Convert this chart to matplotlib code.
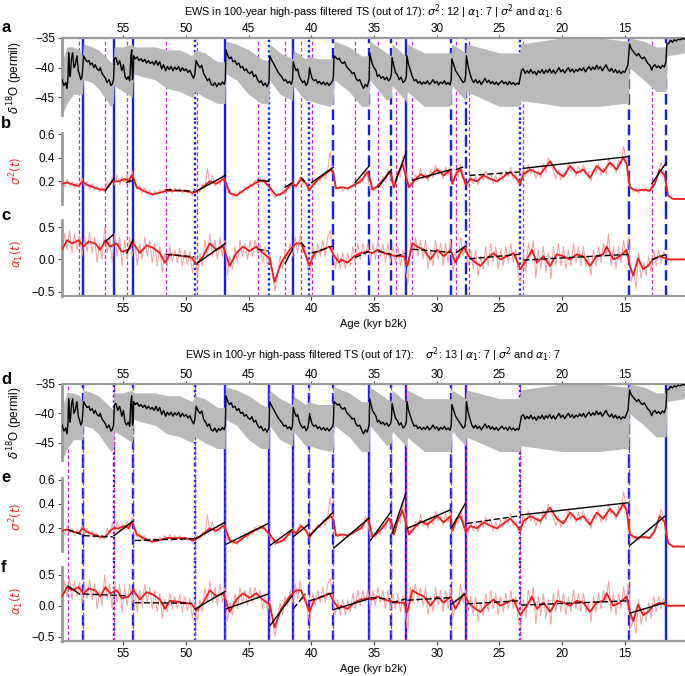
import numpy as np
import matplotlib.pyplot as plt

# ---------------- data (age in kyr b2k) ----------------
# NGRIP d18O, black running line
d18o = [
    (59.90, -42.0), (59.75, -43.0), (59.60, -42.5), (59.50, -43.5), (59.42, -41.5), (59.37, -37.5),
    (59.30, -40.5), (59.24, -41.5), (59.15, -38.5), (59.05, -37.5), (58.95, -40.0), (58.84, -39.5),
    (58.71, -38.0), (58.60, -40.5), (58.52, -41.0), (58.40, -42.0), (58.30, -41.5), (58.26, -40.5),
    (58.18, -38.0), (58.05, -38.5), (57.90, -39.0), (57.75, -38.8), (57.65, -39.5), (57.50, -39.2),
    (57.35, -40.0), (57.25, -39.5), (57.10, -40.2), (56.95, -40.5), (56.85, -40.0), (56.70, -41.0),
    (56.59, -41.3), (56.43, -41.8), (56.32, -42.5), (56.15, -42.0), (56.00, -43.0), (55.90, -42.8),
    (55.79, -42.0), (55.72, -38.5), (55.60, -38.3), (55.45, -39.5), (55.30, -38.8), (55.13, -40.5),
    (55.00, -39.5), (54.87, -41.5), (54.75, -42.0), (54.62, -41.5), (54.50, -42.2), (54.40, -38.0),
    (54.34, -37.0), (54.28, -42.0), (54.23, -41.5), (54.18, -38.0), (54.05, -38.5), (53.90, -38.2),
    (53.75, -38.8), (53.60, -38.5), (53.45, -39.0), (53.30, -38.6), (53.15, -39.2), (53.00, -38.8),
    (52.85, -39.3), (52.70, -39.0), (52.55, -39.5), (52.40, -38.8), (52.25, -39.6), (52.10, -39.0),
    (51.95, -40.2), (51.80, -39.5), (51.63, -40.5), (51.50, -39.8), (51.35, -40.3), (51.20, -39.8),
    (51.05, -40.5), (50.90, -39.9), (50.75, -40.3), (50.60, -39.8), (50.45, -40.6), (50.30, -40.0),
    (50.15, -40.5), (50.00, -40.2), (49.85, -40.8), (49.70, -40.4), (49.55, -41.2), (49.40, -41.8),
    (49.30, -41.0), (49.20, -38.8), (49.05, -39.5), (48.90, -40.0), (48.75, -39.6), (48.60, -41.0),
    (48.45, -41.5), (48.30, -42.2), (48.15, -41.8), (48.00, -42.8), (47.85, -43.0), (47.70, -42.5),
    (47.55, -43.2), (47.40, -42.6), (47.25, -42.9), (47.10, -42.4), (46.95, -42.8), (46.87, -42.0),
    (46.82, -37.0), (46.70, -37.8), (46.55, -38.5), (46.40, -38.2), (46.26, -39.0), (46.10, -38.8),
    (45.95, -39.5), (45.80, -39.2), (45.65, -40.0), (45.50, -39.8), (45.35, -40.5), (45.20, -40.2),
    (45.05, -40.8), (44.90, -41.0), (44.75, -40.6), (44.60, -41.5), (44.45, -41.2), (44.30, -42.0),
    (44.15, -42.5), (44.00, -42.2), (43.85, -43.0), (43.70, -42.6), (43.55, -43.2), (43.39, -42.5),
    (43.33, -38.0), (43.20, -38.6), (43.05, -39.2), (42.94, -39.6), (42.80, -40.2), (42.65, -40.8),
    (42.50, -41.2), (42.35, -41.6), (42.20, -42.2), (42.05, -42.0), (41.90, -42.6), (41.75, -42.3),
    (41.60, -42.8), (41.51, -42.0), (41.45, -39.0), (41.35, -39.8), (41.22, -40.5), (41.10, -40.2),
    (40.96, -41.5), (40.85, -42.0), (40.70, -42.5), (40.56, -42.2), (40.43, -43.0), (40.30, -42.5),
    (40.21, -41.5), (40.15, -40.0), (40.05, -41.0), (39.95, -41.8), (39.80, -42.2), (39.65, -42.0),
    (39.50, -42.6), (39.37, -42.3), (39.20, -42.8), (39.05, -42.4), (38.90, -42.9), (38.75, -42.5),
    (38.60, -43.0), (38.45, -42.6), (38.30, -42.2), (38.25, -41.5), (38.20, -38.0), (38.05, -38.3),
    (37.90, -38.6), (37.78, -38.4), (37.65, -39.0), (37.50, -39.3), (37.35, -39.0), (37.20, -39.8),
    (37.05, -40.2), (36.90, -40.5), (36.75, -41.0), (36.60, -40.8), (36.45, -41.8), (36.30, -42.2),
    (36.15, -42.0), (36.00, -42.8), (35.85, -43.5), (35.70, -42.8), (35.55, -43.2), (35.40, -42.0),
    (35.35, -37.5), (35.25, -38.5), (35.13, -39.5), (35.00, -40.0), (34.85, -40.5), (34.74, -41.5),
    (34.60, -41.2), (34.45, -41.8), (34.30, -41.5), (34.15, -42.0), (34.00, -41.6), (33.85, -42.2),
    (33.70, -41.8), (33.62, -41.0), (33.57, -38.3), (33.45, -39.5), (33.30, -40.8), (33.15, -41.2),
    (33.00, -42.0), (32.85, -41.6), (32.70, -42.5), (32.55, -42.2), (32.43, -41.5), (32.38, -38.0),
    (32.25, -39.5), (32.10, -40.5), (31.95, -41.5), (31.80, -42.2), (31.65, -42.0), (31.50, -42.6),
    (31.35, -42.3), (31.20, -42.8), (31.05, -42.4), (30.90, -42.7), (30.75, -42.2), (30.60, -42.8),
    (30.45, -42.5), (30.30, -42.0), (30.15, -42.6), (30.00, -42.3), (29.85, -42.9), (29.70, -42.4),
    (29.55, -42.7), (29.40, -42.2), (29.25, -42.8), (29.10, -42.5), (28.95, -42.9), (28.85, -42.0),
    (28.80, -38.5), (28.65, -39.5), (28.50, -40.5), (28.35, -41.0), (28.20, -41.5), (28.05, -42.0),
    (27.90, -42.5), (27.75, -42.2), (27.69, -41.0), (27.64, -38.0), (27.50, -39.8), (27.35, -41.0),
    (27.20, -42.0), (27.05, -42.5), (26.90, -42.0), (26.75, -42.6), (26.60, -42.2), (26.45, -42.8),
    (26.30, -42.3), (26.15, -41.8), (26.00, -42.5), (25.85, -42.1), (25.70, -42.7), (25.55, -42.3),
    (25.40, -42.8), (25.25, -42.4), (25.10, -42.9), (24.95, -42.5), (24.80, -42.2), (24.65, -42.7),
    (24.50, -42.4), (24.35, -42.9), (24.20, -42.3), (24.05, -42.8), (23.90, -42.5), (23.75, -42.9),
    (23.60, -42.6), (23.45, -42.8), (23.34, -41.5), (23.25, -40.5), (23.10, -40.2), (22.95, -41.0),
    (22.80, -40.5), (22.65, -40.9), (22.50, -40.3), (22.35, -41.0), (22.20, -40.6), (22.05, -41.2),
    (21.90, -40.5), (21.75, -40.9), (21.60, -40.3), (21.45, -41.0), (21.30, -40.4), (21.15, -40.8),
    (21.00, -40.2), (20.85, -40.9), (20.70, -40.4), (20.55, -41.0), (20.40, -40.5), (20.25, -40.0),
    (20.10, -40.7), (19.95, -40.3), (19.80, -40.9), (19.65, -40.4), (19.50, -40.0), (19.35, -40.7),
    (19.20, -40.2), (19.05, -40.8), (18.90, -40.3), (18.75, -40.6), (18.60, -40.1), (18.45, -40.5),
    (18.30, -40.0), (18.15, -40.7), (18.00, -40.2), (17.85, -39.8), (17.70, -40.4), (17.55, -39.9),
    (17.40, -40.3), (17.25, -39.6), (17.10, -40.2), (16.95, -39.8), (16.80, -40.5), (16.65, -40.0),
    (16.50, -39.5), (16.35, -40.2), (16.20, -40.6), (16.05, -40.1), (15.90, -40.8), (15.75, -40.3),
    (15.60, -40.9), (15.45, -40.5), (15.30, -41.0), (15.15, -40.6), (15.00, -40.8), (14.85, -40.0),
    (14.75, -39.5), (14.68, -37.5), (14.62, -36.0), (14.50, -36.8), (14.35, -37.2), (14.20, -37.6),
    (14.05, -38.0), (13.90, -37.6), (13.75, -38.2), (13.60, -38.5), (13.45, -38.2), (13.30, -38.8),
    (13.15, -39.3), (13.00, -39.6), (12.85, -40.4), (12.75, -39.8), (12.60, -39.5), (12.45, -40.0),
    (12.30, -39.7), (12.15, -40.1), (12.00, -39.6), (11.85, -39.9), (11.72, -39.0), (11.65, -36.0),
    (11.50, -35.9), (11.35, -35.4), (11.20, -35.7), (11.05, -35.3), (10.90, -35.5), (10.75, -35.2),
    (10.60, -35.3), (10.40, -35.1), (10.25, -35.2),
]

# spread of the raw 20-yr values (grey): age, lower, upper
d18o_band = [
    (59.90, -48.0, -39.0), (59.50, -46.0, -36.5), (59.00, -44.5, -36.5), (58.50, -44.5, -37.0),
    (58.27, -44.5, -38.0), (58.20, -42.0, -36.0), (57.50, -42.5, -36.5), (57.00, -43.5, -37.0),
    (56.50, -45.0, -38.0), (56.00, -46.5, -39.0), (55.80, -46.0, -39.5), (55.75, -43.0, -36.5),
    (55.00, -44.0, -36.5), (54.30, -45.0, -36.0), (54.20, -41.0, -36.5), (53.50, -41.5, -36.5),
    (52.50, -42.0, -36.5), (51.50, -43.5, -37.0), (50.50, -44.0, -37.0), (49.50, -45.0, -38.0),
    (49.30, -44.0, -37.0), (48.50, -45.0, -37.5), (47.50, -46.0, -39.0), (46.90, -46.0, -39.0),
    (46.85, -41.0, -35.5), (46.00, -42.0, -36.0), (45.00, -44.5, -37.0), (44.00, -46.0, -38.5),
    (43.40, -46.0, -39.0), (43.35, -42.0, -36.0), (42.50, -44.5, -37.5), (41.52, -45.5, -38.5),
    (41.45, -43.0, -37.0), (40.50, -45.5, -38.5), (40.20, -45.5, -38.0), (39.50, -46.0, -38.5),
    (38.50, -46.5, -38.5), (38.26, -46.0, -38.5), (38.20, -42.0, -35.5), (37.00, -44.0, -36.5),
    (36.00, -46.5, -38.0), (35.41, -46.5, -38.0), (35.35, -42.0, -35.5), (34.00, -45.5, -37.5),
    (33.63, -45.0, -38.0), (33.57, -43.0, -36.0), (32.50, -45.5, -38.0), (32.44, -46.0, -38.0),
    (32.38, -44.0, -36.0), (31.00, -46.5, -37.5), (29.00, -46.5, -37.5), (28.86, -46.0, -37.5),
    (28.80, -43.0, -36.0), (27.70, -45.5, -37.5), (27.65, -44.0, -36.0), (25.00, -46.5, -37.5),
    (23.40, -46.5, -37.5), (23.30, -45.5, -36.0), (20.00, -46.5, -35.0), (17.00, -46.5, -35.0),
    (15.00, -46.0, -35.5), (14.70, -46.0, -35.5), (14.65, -40.0, -35.0), (13.50, -42.0, -35.5),
    (12.50, -44.0, -36.5), (11.70, -44.0, -36.5), (11.65, -38.0, -35.0), (10.25, -37.5, -35.0),
]

# variance, smoothed (bold red)
var_smooth = [
    (59.90, 0.18), (59.50, 0.19), (58.97, 0.17), (58.57, 0.16), (58.26, 0.20), (57.92, 0.17),
    (57.38, 0.15), (56.85, 0.13), (56.43, 0.13), (56.06, 0.18), (55.79, 0.20), (55.40, 0.20),
    (54.87, 0.22), (54.60, 0.20), (54.34, 0.25), (54.21, 0.23), (53.94, 0.15), (53.41, 0.12),
    (52.75, 0.09), (52.22, 0.10), (51.56, 0.12), (51.03, 0.12), (49.97, 0.12), (49.44, 0.10),
    (48.91, 0.13), (48.11, 0.20), (47.58, 0.18), (47.05, 0.22), (46.87, 0.20), (46.52, 0.10),
    (45.99, 0.08), (45.20, 0.14), (44.40, 0.19), (43.87, 0.21), (43.34, 0.15), (42.81, 0.08),
    (42.28, 0.10), (41.75, 0.16), (41.51, 0.18), (41.22, 0.16), (40.82, 0.22), (40.43, 0.18),
    (40.16, 0.13), (39.63, 0.20), (38.84, 0.27), (38.44, 0.30), (38.25, 0.27), (38.04, 0.14),
    (37.51, 0.15), (37.12, 0.14), (36.59, 0.17), (36.06, 0.20), (35.53, 0.28), (35.40, 0.25),
    (35.13, 0.13), (34.74, 0.16), (34.21, 0.22), (33.81, 0.28), (33.62, 0.25), (33.41, 0.15),
    (33.15, 0.25), (32.75, 0.35), (32.48, 0.25), (32.22, 0.15), (31.82, 0.20), (31.29, 0.26),
    (30.76, 0.23), (29.97, 0.30), (29.44, 0.25), (28.91, 0.30), (28.77, 0.18), (28.38, 0.28),
    (28.11, 0.30), (27.69, 0.17), (27.32, 0.22), (26.79, 0.20), (26.26, 0.25), (25.73, 0.22),
    (25.20, 0.20), (24.67, 0.24), (24.14, 0.28), (23.61, 0.22), (23.34, 0.18), (23.08, 0.26),
    (22.55, 0.30), (21.75, 0.26), (20.96, 0.37), (20.43, 0.28), (19.90, 0.24), (19.37, 0.33),
    (18.84, 0.27), (18.31, 0.30), (17.78, 0.23), (17.25, 0.33), (16.72, 0.28), (16.19, 0.36),
    (15.66, 0.30), (15.13, 0.40), (14.86, 0.35), (14.60, 0.15), (14.07, 0.12), (13.54, 0.13),
    (13.01, 0.12), (12.61, 0.18), (12.22, 0.30), (11.82, 0.25), (11.55, 0.08), (11.15, 0.05),
    (10.22, 0.05),
]

# variance, unsmoothed (light red)
var_raw = [
    (59.9, 0.19), (59.7, 0.15), (59.5, 0.22), (59.3, 0.16), (59.1, 0.20), (58.9, 0.14), (58.7, 0.19),
    (58.5, 0.15), (58.3, 0.23), (58.1, 0.15), (57.9, 0.20), (57.7, 0.13), (57.5, 0.18), (57.3, 0.12),
    (57.1, 0.16), (56.9, 0.11), (56.7, 0.15), (56.5, 0.11), (56.3, 0.20), (56.1, 0.15), (55.9, 0.24),
    (55.7, 0.17), (55.5, 0.25), (55.3, 0.17), (55.1, 0.24), (54.9, 0.19), (54.7, 0.26), (54.5, 0.18),
    (54.3, 0.29), (54.1, 0.18), (53.9, 0.13), (53.7, 0.16), (53.5, 0.10), (53.3, 0.14), (53.1, 0.09),
    (52.9, 0.12), (52.7, 0.08), (52.5, 0.12), (52.3, 0.09), (52.1, 0.13), (51.9, 0.10), (51.7, 0.14),
    (51.5, 0.11), (51.3, 0.15), (51.1, 0.10), (50.9, 0.14), (50.7, 0.11), (50.5, 0.14), (50.3, 0.10),
    (50.1, 0.13), (49.9, 0.10), (49.7, 0.12), (49.5, 0.08), (49.3, 0.12), (49.1, 0.14), (48.9, 0.11),
    (48.7, 0.17), (48.5, 0.14), (48.3, 0.31), (48.1, 0.17), (47.9, 0.25), (47.7, 0.16), (47.5, 0.22),
    (47.3, 0.17), (47.1, 0.25), (46.9, 0.21), (46.7, 0.10), (46.5, 0.13), (46.3, 0.07), (46.1, 0.10),
    (45.9, 0.07), (45.7, 0.12), (45.5, 0.10), (45.3, 0.16), (45.1, 0.12), (44.9, 0.18), (44.7, 0.15),
    (44.5, 0.21), (44.3, 0.17), (44.1, 0.23), (43.9, 0.19), (43.7, 0.22), (43.5, 0.16), (43.3, 0.13),
    (43.1, 0.09), (42.9, 0.06), (42.7, 0.10), (42.5, 0.08), (42.3, 0.12), (42.1, 0.09), (41.9, 0.15),
    (41.7, 0.14), (41.5, 0.20), (41.3, 0.14), (41.1, 0.19), (40.9, 0.24), (40.7, 0.18), (40.5, 0.21),
    (40.3, 0.14), (40.1, 0.12), (39.9, 0.19), (39.7, 0.17), (39.5, 0.23), (39.3, 0.20), (39.1, 0.27),
    (38.9, 0.22), (38.7, 0.30), (38.5, 0.45), (38.3, 0.28), (38.1, 0.16), (37.9, 0.13), (37.7, 0.16),
    (37.5, 0.12), (37.3, 0.15), (37.1, 0.12), (36.9, 0.16), (36.7, 0.15), (36.5, 0.19), (36.3, 0.18),
    (36.1, 0.23), (35.9, 0.19), (35.7, 0.30), (35.5, 0.24), (35.3, 0.12), (35.1, 0.15), (34.9, 0.12),
    (34.7, 0.18), (34.5, 0.15), (34.3, 0.24), (34.1, 0.19), (33.9, 0.30), (33.7, 0.24), (33.5, 0.14),
    (33.3, 0.19), (33.1, 0.28), (32.9, 0.24), (32.7, 0.42), (32.5, 0.30), (32.3, 0.14), (32.1, 0.19),
    (31.9, 0.17), (31.7, 0.26), (31.5, 0.20), (31.3, 0.31), (31.1, 0.22), (30.9, 0.27), (30.7, 0.20),
    (30.5, 0.30), (30.3, 0.23), (30.1, 0.34), (29.9, 0.26), (29.7, 0.30), (29.5, 0.22), (29.3, 0.32),
    (29.1, 0.25), (28.9, 0.33), (28.7, 0.17), (28.5, 0.28), (28.3, 0.24), (28.1, 0.34), (27.9, 0.27),
    (27.7, 0.19), (27.5, 0.16), (27.3, 0.25), (27.1, 0.18), (26.9, 0.24), (26.7, 0.17), (26.5, 0.26),
    (26.3, 0.21), (26.1, 0.29), (25.9, 0.22), (25.7, 0.27), (25.5, 0.18), (25.3, 0.25), (25.1, 0.19),
    (24.9, 0.27), (24.7, 0.21), (24.5, 0.29), (24.3, 0.24), (24.1, 0.32), (23.9, 0.22), (23.7, 0.26),
    (23.5, 0.17), (23.3, 0.20), (23.1, 0.31), (22.9, 0.24), (22.7, 0.34), (22.5, 0.26), (22.3, 0.31),
    (22.1, 0.22), (21.9, 0.29), (21.7, 0.23), (21.5, 0.35), (21.3, 0.27), (21.1, 0.40), (20.9, 0.33),
    (20.7, 0.29), (20.5, 0.22), (20.3, 0.30), (20.1, 0.21), (19.9, 0.27), (19.7, 0.25), (19.5, 0.36),
    (19.3, 0.28), (19.1, 0.32), (18.9, 0.24), (18.7, 0.33), (18.5, 0.26), (18.3, 0.34), (18.1, 0.26),
    (17.9, 0.28), (17.7, 0.20), (17.5, 0.30), (17.3, 0.27), (17.1, 0.35), (16.9, 0.25), (16.7, 0.31),
    (16.5, 0.26), (16.3, 0.40), (16.1, 0.32), (15.9, 0.35), (15.7, 0.27), (15.5, 0.38), (15.3, 0.34),
    (15.1, 0.50), (14.9, 0.38), (14.7, 0.24), (14.5, 0.14), (14.3, 0.11), (14.1, 0.14), (13.9, 0.10),
    (13.7, 0.13), (13.5, 0.11), (13.3, 0.14), (13.1, 0.11), (12.9, 0.16), (12.7, 0.15), (12.5, 0.22),
    (12.3, 0.27), (12.1, 0.36), (11.9, 0.28), (11.7, 0.15), (11.5, 0.07), (11.3, 0.06), (11.1, 0.05),
    (10.8, 0.06), (10.5, 0.05), (10.25, 0.05),
]

# lag-1 autocorrelation, smoothed (bold red)
ac1_smooth = [
    (59.90, 0.15), (59.50, 0.30), (59.10, 0.25), (58.57, 0.30), (58.18, 0.20), (57.78, 0.28),
    (57.25, 0.25), (56.85, 0.15), (56.43, 0.30), (56.06, 0.20), (55.53, 0.25), (55.13, 0.12),
    (54.60, 0.15), (54.21, 0.25), (53.68, 0.10), (53.15, 0.22), (52.62, 0.18), (52.09, 0.10),
    (51.69, -0.05), (51.29, 0.08), (50.50, 0.06), (49.57, 0.03), (49.17, -0.08), (48.64, 0.05),
    (48.11, 0.25), (47.58, 0.15), (47.05, 0.20), (46.52, -0.10), (45.99, 0.10), (45.46, 0.20),
    (44.93, 0.13), (44.40, 0.20), (43.87, 0.10), (43.34, 0.02), (42.94, -0.35), (42.41, -0.05),
    (41.75, 0.15), (41.22, 0.25), (40.82, 0.25), (40.43, 0.05), (40.16, -0.10), (39.76, 0.10),
    (39.10, 0.15), (38.57, 0.20), (38.17, 0.05), (37.78, -0.05), (37.65, 0.00), (37.12, -0.05),
    (36.59, 0.05), (36.06, 0.10), (35.53, 0.12), (35.13, 0.10), (34.74, 0.15), (34.21, 0.10),
    (33.68, 0.07), (33.28, 0.05), (32.62, 0.05), (32.35, -0.10), (31.95, 0.25), (31.56, 0.20),
    (31.03, 0.15), (30.50, 0.00), (29.97, 0.15), (29.44, 0.05), (28.91, 0.15), (28.51, -0.05),
    (27.85, 0.20), (27.45, 0.05), (27.05, -0.03), (26.52, -0.10), (25.99, 0.02), (25.46, 0.10),
    (24.93, 0.00), (24.40, 0.05), (23.87, 0.10), (23.34, -0.15), (22.81, 0.00), (22.41, 0.15),
    (22.02, -0.05), (21.49, 0.05), (20.96, -0.10), (20.43, 0.08), (19.90, 0.05), (19.37, 0.00),
    (18.84, 0.08), (18.31, 0.05), (17.78, -0.10), (17.25, 0.05), (16.72, 0.08), (16.45, 0.20),
    (15.92, 0.00), (15.39, 0.05), (14.86, 0.15), (14.60, -0.10), (14.33, -0.25), (13.94, 0.02),
    (13.54, -0.15), (13.14, -0.10), (12.74, 0.00), (12.22, 0.05), (11.55, 0.00), (11.15, 0.00),
    (10.22, 0.00),
]

# lag-1 autocorrelation, unsmoothed (light red)
ac1_raw = [
    (59.9, 0.05), (59.7, 0.40), (59.5, 0.15), (59.3, 0.45), (59.1, 0.10), (58.9, 0.40), (58.7, 0.15),
    (58.5, 0.38), (58.3, 0.05), (58.1, 0.35), (57.9, 0.12), (57.7, 0.42), (57.5, 0.10), (57.3, 0.35),
    (57.1, -0.05), (56.9, 0.25), (56.7, 0.00), (56.5, 0.50), (56.3, 0.10), (56.1, 0.35), (55.9, -0.05),
    (55.7, 0.40), (55.5, 0.05), (55.3, 0.35), (55.1, -0.10), (54.9, 0.30), (54.7, 0.00), (54.5, 0.35),
    (54.3, 0.05), (54.1, 0.30), (53.9, -0.10), (53.7, 0.25), (53.5, 0.00), (53.3, 0.35), (53.1, 0.05),
    (52.9, 0.30), (52.7, -0.05), (52.5, 0.25), (52.3, -0.10), (52.1, 0.20), (51.9, -0.20), (51.7, 0.10),
    (51.5, -0.10), (51.3, 0.20), (51.1, -0.05), (50.9, 0.15), (50.7, -0.05), (50.5, 0.18), (50.3, -0.10),
    (50.1, 0.15), (49.9, -0.08), (49.7, 0.12), (49.5, -0.20), (49.3, 0.05), (49.1, -0.25), (48.9, 0.10),
    (48.7, -0.10), (48.5, 0.30), (48.3, 0.05), (48.1, 0.40), (47.9, 0.05), (47.7, 0.30), (47.5, 0.00),
    (47.3, 0.35), (47.1, 0.05), (46.9, 0.30), (46.7, -0.25), (46.5, 0.05), (46.3, -0.15), (46.1, 0.20),
    (45.9, -0.05), (45.7, 0.30), (45.5, 0.05), (45.3, 0.25), (45.1, 0.00), (44.9, 0.30), (44.7, 0.05),
    (44.5, 0.30), (44.3, 0.10), (44.1, 0.25), (43.9, -0.05), (43.7, 0.20), (43.5, -0.10), (43.3, 0.10),
    (43.1, -0.25), (42.9, -0.50), (42.7, -0.20), (42.5, 0.05), (42.3, -0.15), (42.1, 0.15), (41.9, 0.00),
    (41.7, 0.25), (41.5, 0.05), (41.3, 0.35), (41.1, 0.10), (40.9, 0.40), (40.7, 0.10), (40.5, 0.20),
    (40.3, -0.15), (40.1, -0.25), (39.9, 0.20), (39.7, 0.00), (39.5, 0.25), (39.3, 0.05), (39.1, 0.30),
    (38.9, 0.05), (38.7, 0.35), (38.5, 0.45), (38.3, 0.10), (38.1, -0.15), (37.9, 0.10), (37.7, -0.15),
    (37.5, 0.10), (37.3, -0.15), (37.1, 0.10), (36.9, -0.10), (36.7, 0.20), (36.5, -0.05), (36.3, 0.25),
    (36.1, 0.00), (35.9, 0.25), (35.7, 0.05), (35.5, 0.25), (35.3, -0.05), (35.1, 0.25), (34.9, 0.00),
    (34.7, 0.30), (34.5, 0.05), (34.3, 0.25), (34.1, -0.05), (33.9, 0.25), (33.7, -0.05), (33.5, 0.20),
    (33.3, -0.05), (33.1, 0.20), (32.9, -0.10), (32.7, 0.15), (32.5, -0.15), (32.3, -0.40), (32.1, 0.30),
    (31.9, 0.05), (31.7, 0.35), (31.5, 0.05), (31.3, 0.30), (31.1, 0.00), (30.9, 0.30), (30.7, -0.15),
    (30.5, 0.15), (30.3, -0.10), (30.1, 0.30), (29.9, 0.00), (29.7, 0.25), (29.5, -0.10), (29.3, 0.25),
    (29.1, -0.05), (28.9, 0.30), (28.7, -0.20), (28.5, 0.10), (28.3, 0.00), (28.1, 0.35), (27.9, 0.05),
    (27.7, 0.25), (27.5, -0.10), (27.3, 0.15), (27.1, -0.15), (26.9, 0.15), (26.7, -0.25), (26.5, 0.05),
    (26.3, -0.15), (26.1, 0.20), (25.9, -0.10), (25.7, 0.25), (25.5, -0.05), (25.3, 0.20), (25.1, -0.15),
    (24.9, 0.15), (24.7, -0.10), (24.5, 0.20), (24.3, -0.05), (24.1, 0.25), (23.9, -0.05), (23.7, 0.15),
    (23.5, -0.25), (23.3, -0.35), (23.1, 0.10), (22.9, -0.20), (22.7, 0.25), (22.5, 0.05), (22.3, 0.30),
    (22.1, -0.30), (21.9, 0.15), (21.7, -0.15), (21.5, 0.20), (21.3, -0.20), (21.1, 0.10), (20.9, -0.30),
    (20.7, 0.20), (20.5, -0.10), (20.3, 0.25), (20.1, -0.10), (19.9, 0.20), (19.7, -0.15), (19.5, 0.15),
    (19.3, -0.10), (19.1, 0.25), (18.9, -0.05), (18.7, 0.20), (18.5, -0.10), (18.3, 0.20), (18.1, -0.10),
    (17.9, 0.05), (17.7, -0.25), (17.5, 0.15), (17.3, -0.10), (17.1, 0.20), (16.9, -0.05), (16.7, 0.25),
    (16.5, 0.05), (16.3, 0.40), (16.1, -0.10), (15.9, 0.20), (15.7, -0.15), (15.5, 0.20), (15.3, -0.05),
    (15.1, 0.30), (14.9, 0.05), (14.7, 0.35), (14.5, -0.35), (14.3, -0.20), (14.1, -0.45), (13.9, 0.10),
    (13.7, -0.30), (13.5, -0.05), (13.3, -0.25), (13.1, 0.05), (12.9, -0.20), (12.7, 0.15), (12.5, -0.10),
    (12.3, 0.15), (12.1, -0.05), (11.9, 0.12), (11.7, 0.00), (11.5, 0.02), (11.3, -0.02), (11.1, 0.01),
    (10.8, 0.00), (10.5, 0.01), (10.25, 0.00),
]

# DO transitions and significance style of each (same ages in both analyses)
transitions = [58.26, 55.79, 54.23, 49.30, 46.87, 43.39, 41.51, 40.21, 38.25,
               35.40, 33.62, 32.43, 28.85, 27.69, 23.34, 14.68, 11.68]
styles_1 = ['-', '-', '-', ':', '-', ':', '-', ':', '--',
            '--', '--', '-', '--', '-.', ':', '--', '--']
styles_2 = ['--', ':', '--', ':', '-', '-', '-', '--', '--',
            '-', '--', '-', '--', '-', ':', '--', '-']
# start of each analysis window (magenta)
win_start_1 = [58.52, 56.43, 54.73, 51.63, 49.12, 44.30, 42.10, 40.80, 39.98,
               36.51, 34.66, 33.28, 31.95, 28.43, 27.40, 23.10, 12.85]
win_start_2 = [59.42, 58.26, 55.79, 54.23, 49.30, 46.87, 43.39, 41.51, 40.21,
               38.25, 35.40, 33.62, 32.43, 28.85, 27.69, 23.34, 14.68]

# linear trends: age0, value0, age1, value1, style
trend_var_1 = [
    (56.43, 0.12, 55.79, 0.22, '-'), (54.73, 0.19, 54.25, 0.21, '-'), (51.63, 0.13, 49.35, 0.115, '--'),
    (49.12, 0.12, 46.87, 0.25, '-'), (44.30, 0.21, 43.40, 0.20, '-'), (42.10, 0.15, 41.51, 0.19, '-'),
    (40.80, 0.23, 40.56, 0.20, '-'), (39.98, 0.19, 38.25, 0.32, '-'), (36.51, 0.19, 35.40, 0.33, '-'),
    (34.66, 0.15, 33.62, 0.30, '-'), (33.28, 0.20, 32.43, 0.45, '-'), (31.95, 0.21, 28.85, 0.30, '-'),
    (28.43, 0.30, 27.95, 0.32, '-'), (27.40, 0.25, 23.34, 0.28, '--'), (23.10, 0.31, 14.68, 0.41, '-'),
    (12.85, 0.18, 11.68, 0.36, '-'),
]
trend_ac1_1 = [
    (56.43, 0.28, 55.85, 0.38, '-'), (54.73, 0.10, 54.23, 0.31, '-'), (51.63, 0.08, 49.35, 0.04, '--'),
    (49.12, -0.06, 46.87, 0.25, '-'), (44.30, 0.16, 43.39, 0.13, '--'), (42.10, -0.06, 41.51, 0.16, '-'),
    (40.80, 0.26, 40.56, 0.20, '-'), (39.98, 0.10, 38.25, 0.21, '--'), (36.51, 0.03, 35.40, 0.13, '--'),
    (34.66, 0.13, 33.62, 0.08, '--'), (33.28, 0.05, 32.43, 0.10, '--'), (31.95, 0.16, 28.85, 0.11, '--'),
    (28.43, 0.11, 27.69, 0.21, '-'), (27.40, 0.01, 23.34, 0.08, '--'), (23.10, -0.01, 14.68, 0.08, '--'),
    (12.85, 0.00, 11.68, 0.08, '--'),
]
trend_var_2 = [
    (59.42, 0.19, 58.35, 0.15, '--'), (58.20, 0.14, 55.85, 0.13, '--'), (55.75, 0.14, 54.23, 0.26, '-'),
    (54.10, 0.10, 49.35, 0.115, '--'), (49.25, 0.115, 46.90, 0.25, '-'), (46.80, 0.07, 43.45, 0.24, '-'),
    (43.30, 0.06, 41.55, 0.19, '-'), (41.45, 0.13, 40.25, 0.23, '-'), (40.15, 0.14, 38.30, 0.33, '-'),
    (38.20, 0.04, 35.45, 0.28, '-'), (35.30, 0.10, 33.70, 0.33, '-'), (33.55, 0.16, 32.50, 0.48, '-'),
    (32.35, 0.20, 28.95, 0.35, '-'), (28.80, 0.21, 27.75, 0.40, '-'), (27.60, 0.24, 23.60, 0.30, '--'),
    (23.30, 0.31, 14.75, 0.41, '-'), (14.60, 0.06, 11.80, 0.30, '-'),
]
trend_ac1_2 = [
    (59.42, 0.32, 58.50, 0.19, '-'), (58.20, 0.19, 54.60, 0.16, '--'), (54.10, 0.05, 49.50, 0.04, '--'),
    (49.25, -0.05, 46.90, 0.23, '-'), (46.80, -0.05, 43.45, 0.19, '-'), (43.30, -0.32, 41.55, 0.16, '-'),
    (41.45, -0.05, 40.50, 0.19, '--'), (40.15, 0.08, 38.30, 0.21, '--'), (38.20, -0.06, 35.45, 0.11, '-'),
    (35.30, 0.13, 33.70, 0.11, '--'), (33.55, 0.05, 32.50, 0.11, '--'), (32.35, 0.09, 28.95, 0.13, '--'),
    (28.80, 0.03, 27.75, 0.19, '-'), (27.60, 0.03, 23.45, 0.08, '--'), (23.30, 0.01, 14.75, 0.08, '--'),
    (14.60, -0.12, 11.80, 0.05, '-'),
]

xticks = [55, 50, 45, 40, 35, 30, 25, 20, 15]
title_1 = (r'EWS in 100-year high-pass filtered TS (out of 17): $\sigma^2$: 12 | '
           r'$\alpha_1$: 7 | $\sigma^2$ and $\alpha_1$: 6')
title_2 = (r'EWS in 100-yr high-pass filtered TS (out of 17):    $\sigma^2$: 13 | '
           r'$\alpha_1$: 7 | $\sigma^2$ and $\alpha_1$: 7')

# ---------------- drawing ----------------
plt.rcParams['font.family'] = ['Liberation Sans', 'DejaVu Sans']
plt.rcParams['mathtext.fontset'] = 'dejavusans'

W, H = 685, 676
fig = plt.figure(figsize=(W / 100, H / 100), dpi=100)

BLUE = '#1a1af0'
MAG = '#cc22cc'
GREY = '#b9b9b9'
SPINE = '#9a9a9a'
FS = 8.5
LS = {'-': '-', '--': (0, (4.5, 2.0)), ':': (0, (1.0, 1.2)), '-.': (0, (5, 1.5, 1.2, 1.5))}
XL = (59.9, 10.2)


def add_ax(top_px, bot_px):
    ax = fig.add_axes([62 / W, 1 - bot_px / H, 1 - 62 / W, (bot_px - top_px) / H])
    ax.set_xlim(*XL)
    for s in ['top', 'right', 'bottom']:
        ax.spines[s].set_visible(False)
    ax.spines['left'].set_color(SPINE)
    ax.spines['left'].set_linewidth(2.0)
    ax.tick_params(axis='y', length=3, width=0.8, color='#444444', labelsize=FS, pad=2)
    ax.set_xticks([])
    ax.patch.set_alpha(0)
    return ax


def unzip(pairs):
    return [p[0] for p in pairs], [p[1] for p in pairs]


def draw_group(px, styles, starts, trend_v, trend_a, overlap):
    top_a, bot_a, bot_b, bot_c = px
    ax_a = add_ax(top_a, bot_a)
    ax_b = add_ax(bot_a, bot_b)
    ax_c = add_ax(bot_b, bot_c)

    # vertical markers
    for ax in (ax_a, ax_b, ax_c):
        for t, s in zip(transitions, styles):
            ax.axvline(t, color=BLUE, lw=1.7, ls=LS[s], zorder=1)
        for t in starts:
            ax.axvline(t, color=MAG, lw=0.9, ls=(0, (3, 2)), zorder=1.2 if overlap else 1)

    # a: d18O
    ax_a.fill_between([r[0] for r in d18o_band], [r[1] for r in d18o_band],
                      [r[2] for r in d18o_band], color=GREY, lw=0, zorder=2)
    x, y = unzip(d18o)
    ax_a.plot(x, y, color='black', lw=1.0, zorder=3)
    ax_a.set_ylim(-48.8, -35)
    ax_a.set_yticks([-35, -40, -45])
    ax_a.set_yticklabels(['\u221235', '\u221240', '\u221245'])
    ax_a.spines['left'].set_bounds(-48.0, -35)
    ax_a.spines['top'].set_visible(True)
    ax_a.spines['top'].set_color(SPINE)
    ax_a.spines['top'].set_linewidth(1.6)
    ax_a.xaxis.set_ticks_position('top')
    ax_a.set_xticks(xticks)
    ax_a.tick_params(axis='x', length=2.5, width=0.8, color='#444444', labelsize=FS, pad=0)
    ax_a.set_ylabel(r'$\delta^{18}$O (permil)', fontsize=8.5)

    # b: variance
    x, y = unzip(var_raw)
    ax_b.plot(x, y, color='#f5a0a0', lw=0.7, zorder=2)
    x, y = unzip(var_smooth)
    ax_b.plot(x, y, color='#ee1c1c', lw=1.3, zorder=3)
    for a0, v0, a1, v1, s in trend_v:
        ax_b.plot([a0, a1], [v0, v1], color='black', lw=1.0, ls=LS[s], zorder=4)
    ax_b.set_ylim(-0.06, 0.72)
    ax_b.set_yticks([0.2, 0.4, 0.6])
    ax_b.spines['left'].set_bounds(0.01, 0.61)
    ax_b.set_ylabel(r'$\sigma^2(t)$', fontsize=8.5, color='#ee3030')

    # c: AC1
    x, y = unzip(ac1_raw)
    ax_c.plot(x, y, color='#f5a0a0', lw=0.7, zorder=2)
    x, y = unzip(ac1_smooth)
    ax_c.plot(x, y, color='#ee1c1c', lw=1.3, zorder=3)
    for a0, v0, a1, v1, s in trend_a:
        ax_c.plot([a0, a1], [v0, v1], color='black', lw=1.0, ls=LS[s], zorder=4)
    ax_c.set_ylim(-0.57, 0.74)
    ax_c.set_yticks([-0.5, 0.0, 0.5])
    ax_c.set_yticklabels(['\u22120.5', '0.0', '0.5'])
    ax_c.spines['left'].set_bounds(-0.57, 0.62)
    ax_c.spines['bottom'].set_visible(True)
    ax_c.spines['bottom'].set_color(SPINE)
    ax_c.spines['bottom'].set_linewidth(1.6)
    ax_c.set_xticks(xticks)
    ax_c.tick_params(axis='x', length=3, width=0.8, color='#444444', labelsize=FS, pad=2)
    ax_c.set_xlabel('Age (kyr b2k)', fontsize=8, labelpad=3)
    ax_c.set_ylabel(r'$\alpha_1(t)$', fontsize=8.5, color='#ee3030')

    ax_a.yaxis.set_label_coords(-0.06, 0.52)
    ax_b.yaxis.set_label_coords(-0.06, 0.45)
    ax_c.yaxis.set_label_coords(-0.06, 0.50)


draw_group((38, 120, 212, 296), styles_1, win_start_1, trend_var_1, trend_ac1_1, False)
draw_group((384, 465, 560, 641), styles_2, win_start_2, trend_var_2, trend_ac1_2, True)

fig.text(373 / W, 1 - 12 / H, title_1, ha='center', va='center', fontsize=7.8)
fig.text(373 / W, 1 - 355 / H, title_2, ha='center', va='center', fontsize=7.8)
for lab, ypx in zip('abcdef', [28, 124, 215, 380, 478, 567]):
    fig.text(1 / W, 1 - ypx / H, lab, fontsize=12, fontweight='bold', va='center', ha='left')

fig.savefig('out.png', dpi=100)
